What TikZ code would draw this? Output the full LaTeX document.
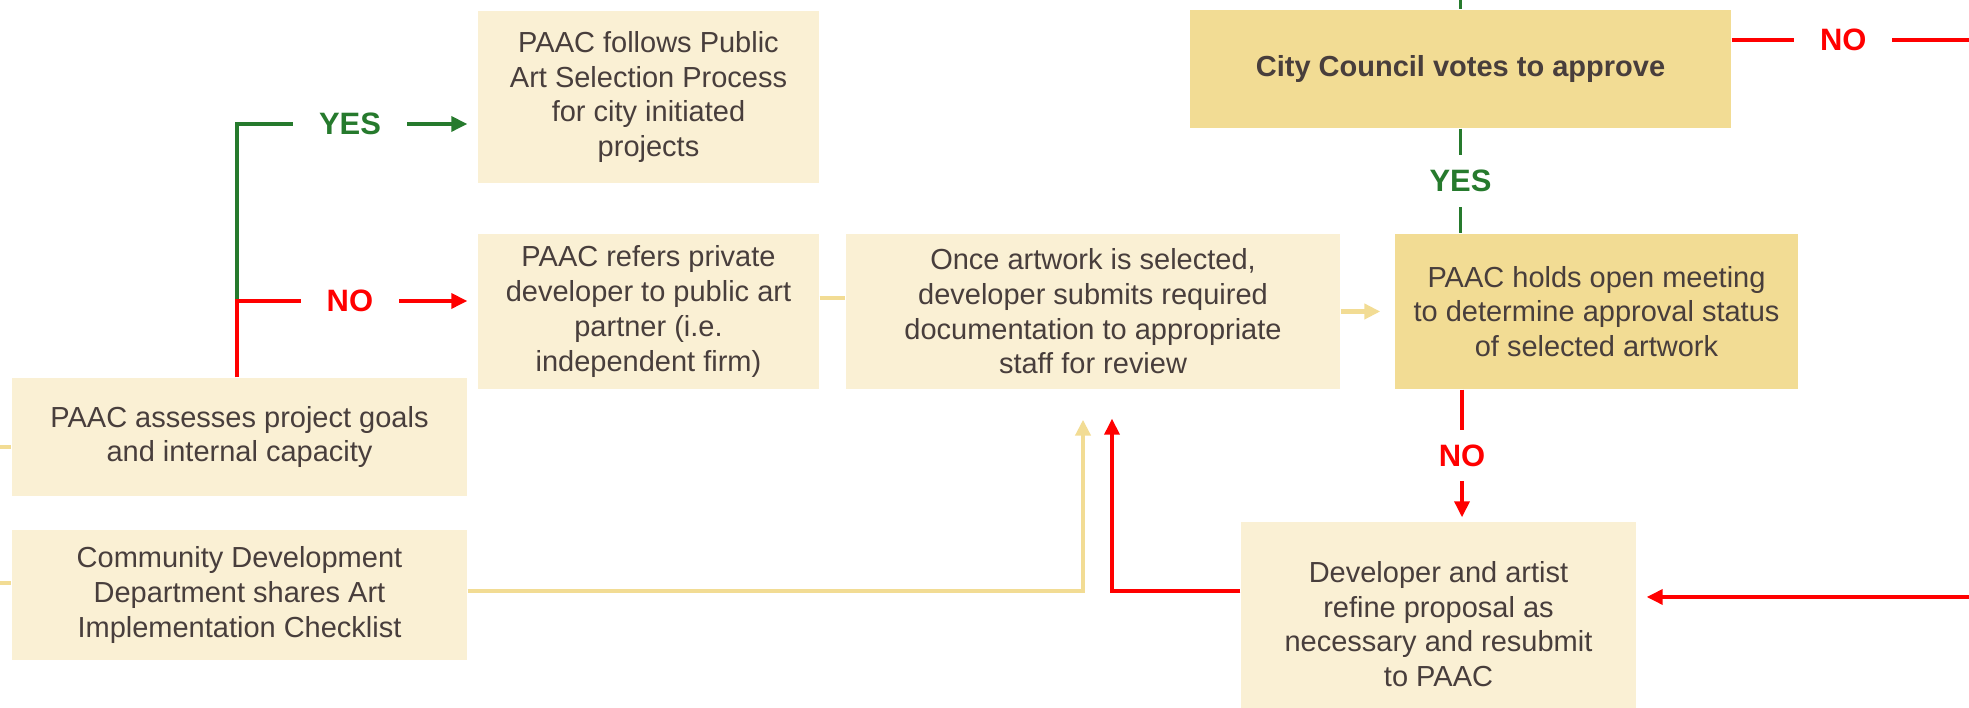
\documentclass[tikz,border=0pt]{standalone}
\usepackage{fontspec}
\setmainfont{Liberation Sans}
\usetikzlibrary{arrows.meta}
\definecolor{pale}{HTML}{FAF0D4}
\definecolor{gold}{HTML}{F2DC94}
\definecolor{ink}{HTML}{483E3C}
\definecolor{yesgreen}{HTML}{267A2D}
\definecolor{nored}{HTML}{FF0000}

\begin{document}
\begin{tikzpicture}[x=1cm, y=1cm, every node/.style={font=\fontsize{8.25}{9.87}\selectfont, text=ink}, box/.style={fill=pale, inner sep=0pt, align=center}, vote/.style={box, fill=gold}, feed/.style={draw=gold, line width=1.3pt}, yes/.style={draw=yesgreen, line width=1pt}, no/.style={draw=nored, line width=1pt}, tip/.style={-{Triangle[length=1.6mm, width=1.5mm]}}, lbl/.style={fill=white, inner xsep=2.6mm, inner ysep=1.5mm, font=\fontsize{8.8}{10}\selectfont\bfseries}]
\useasboundingbox (0,0) rectangle (19.69,7.08);
% left column: assessment and checklist
\node[box, minimum width=4.55cm, minimum height=1.18cm] (assess) at (2.395,2.71) {PAAC assesses project goals\\and internal capacity};
\node[box, minimum width=4.55cm, minimum height=1.30cm] (community) at (2.395,1.13) {Community Development\\Department shares Art\\Implementation Checklist};
% middle: the two branches and the submission
\node[box, minimum width=3.41cm, minimum height=1.72cm] (follows) at (6.485,6.11) {PAAC follows Public\\Art Selection Process\\for city initiated\\projects};
\node[box, minimum width=3.41cm, minimum height=1.55cm] (refers) at (6.485,3.965) {PAAC refers private\\developer to public art\\partner (i.e.\\independent firm)};
\node[box, minimum width=4.94cm, minimum height=1.55cm] (once) at (10.93,3.965) {Once artwork is selected,\\developer submits required\\documentation to appropriate\\staff for review};
% right: meeting, vote, refinement
\node[vote, minimum width=5.41cm, minimum height=1.18cm] (council) at (14.605,6.39) {\textbf{City Council votes to approve}};
\node[vote, minimum width=4.03cm, minimum height=1.55cm] (holds) at (15.965,3.965) {PAAC holds open meeting\\to determine approval status\\of selected artwork};
\node[box, minimum width=3.95cm, minimum height=2.04cm] (refine) at (14.385,0.84) {Developer and artist\\refine proposal as\\necessary and resubmit\\to PAAC};
% free ends at the picture edges
\coordinate (fork) at (2.37,4.07);
\coordinate (yesrow) at (2.37,5.84);
\coordinate (lowrow) at (0,1.17);
\coordinate (leftA) at (0,2.61);
\coordinate (leftC) at (0,1.25);
\coordinate (cctop) at ([yshift=1mm]council.north);
\coordinate (noright) at (19.69,6.68);
\coordinate (backin) at (19.69,1.11);
% assess -> yes / no
\draw[yes] (fork) -- (yesrow) -- node[lbl, text=yesgreen, pos=0.47] {YES} (yesrow -| follows.west) [tip, shorten >=1mm];
\draw[no, tip, shorten >=1mm] (assess.north -| fork) -- (fork) -- node[lbl, text=nored, pos=0.47] {NO} (fork -| refers.west);
% submission -> meeting
\draw[feed] ([yshift=1.35mm]refers.east) -- ([yshift=1.35mm]once.west);
\draw[feed, tip, shorten >=1.4mm] (once.east) -- (holds.west);
% vote
\draw[yes] (cctop) -- (council.north);
\draw[yes] (council.south) -- node[lbl, text=yesgreen] {YES} (council.south |- holds.north);
\draw[no] (council.east |- noright) -- node[lbl, text=nored, pos=0.47] {NO} (noright);
% meeting -> refine, refine -> submission
\draw[no, tip, shorten >=0.4mm] (14.62,0 |- holds.south) -- node[lbl, text=nored] {NO} (14.62,0 |- refine.north);
\draw[no, tip, shorten >=1mm] (backin) -- (backin -| refine.east);
\draw[no, tip, shorten >=2.9mm] (refine.west |- lowrow) -| (11.12,0 |- once.south);
\draw[feed, tip, shorten >=3mm] (community.east |- lowrow) -| (10.83,0 |- once.south);
% stubs on the left edge
\draw[feed] (leftA) -- (leftA -| assess.west);
\draw[feed] (leftC) -- (leftC -| community.west);
\end{tikzpicture}
\end{document}
